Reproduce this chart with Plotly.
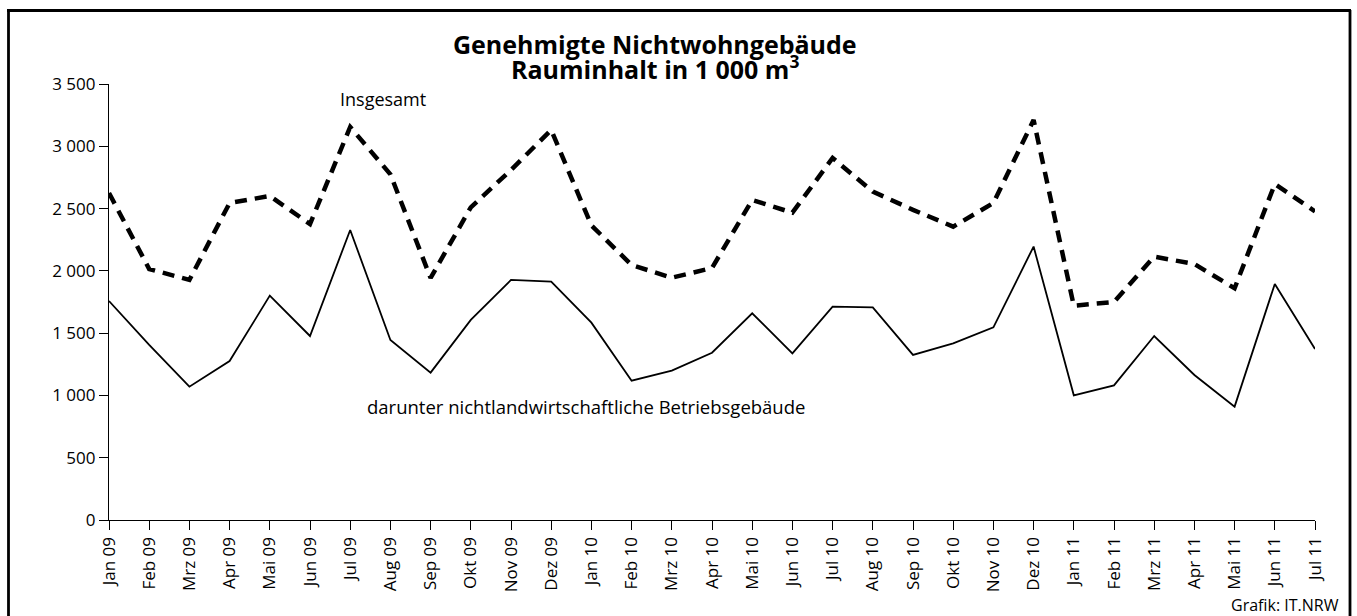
import plotly.graph_objects as go

months = ["Jan 09", "Feb 09", "Mrz 09", "Apr 09", "Mai 09", "Jun 09", "Jul 09", "Aug 09", "Sep 09", "Okt 09",
          "Nov 09", "Dez 09", "Jan 10", "Feb 10", "Mrz 10", "Apr 10", "Mai 10", "Jun 10", "Jul 10", "Aug 10",
          "Sep 10", "Okt 10", "Nov 10", "Dez 10", "Jan 11", "Feb 11", "Mrz 11", "Apr 11", "Mai 11", "Jun 11",
          "Jul 11"]

insgesamt = [2625, 2015, 1927, 2545, 2601, 2376, 3155, 2775, 1943, 2510,
             2810, 3131, 2365, 2047, 1945, 2023, 2569, 2467, 2906, 2636,
             2490, 2355, 2545, 3211, 1720, 1750, 2114, 2055, 1860, 2697,
             2477]

betriebsgebaeude = [1758, 1405, 1070, 1276, 1801, 1477, 2328, 1445, 1183, 1606,
                    1927, 1913, 1584, 1118, 1199, 1343, 1659, 1338, 1713, 1707,
                    1325, 1418, 1547, 2195, 1001, 1081, 1477, 1164, 910, 1895,
                    1373]

y_tickvals = [0, 500, 1000, 1500, 2000, 2500, 3000, 3500]
y_ticktext = ["0", "500", "1 000", "1 500", "2 000", "2 500", "3 000", "3 500"]

title_line1 = "Genehmigte Nichtwohngebäude"
title_line2 = "Rauminhalt in 1 000 m<sup>3</sup>"
label_total = "Insgesamt"
label_sub = "darunter nichtlandwirtschaftliche Betriebsgebäude"
source = "Grafik: IT.NRW"

FONT = "Open Sans"
W, H = 1357, 616
l, r, t, b = 109, 42, 84, 96
pw, ph = W - l - r, H - t - b


def px_x(px):
    return (px - l) / pw


def px_y(py):
    return (H - b - py) / ph


fig = go.Figure()
fig.add_trace(go.Scatter(x=months, y=insgesamt, mode="lines", name=label_total,
                         line=dict(color="black", width=4.5, dash="12px,8px"), showlegend=False))
fig.add_trace(go.Scatter(x=months, y=betriebsgebaeude, mode="lines", name=label_sub,
                         line=dict(color="black", width=1.8), showlegend=False))

fig.update_layout(
    width=W, height=H,
    margin=dict(l=l, r=r, t=t, b=b),
    paper_bgcolor="white", plot_bgcolor="white",
    font=dict(family=FONT, color="black"),
    xaxis=dict(type="category", range=[0, len(months) - 1], showgrid=False, zeroline=False,
               showline=True, linecolor="black", linewidth=1.3,
               ticks="outside", ticklen=9, tickwidth=1.3, tickcolor="black",
               tickangle=-90, tickfont=dict(size=17, family=FONT)),
    yaxis=dict(range=[0, 3500], showgrid=False, zeroline=False,
               showline=True, linecolor="black", linewidth=1.3,
               ticks="outside", ticklen=9, tickwidth=1.3, tickcolor="black",
               tickvals=y_tickvals, ticktext=y_ticktext,
               tickfont=dict(size=17, family=FONT)),
)

fig.add_annotation(text="<b>" + title_line1 + "</b>", x=px_x(655), y=px_y(44), xref="paper", yref="paper",
                   showarrow=False, xanchor="center", yanchor="middle",
                   font=dict(size=25, family=FONT))
fig.add_annotation(text="<b>" + title_line2 + "</b>", x=px_x(655), y=px_y(67), xref="paper", yref="paper",
                   showarrow=False, xanchor="center", yanchor="middle",
                   font=dict(size=25, family=FONT))

fig.add_annotation(text=label_total, x=6.82, y=3380, xref="x", yref="y", showarrow=False,
                   font=dict(size=18, family=FONT), xanchor="center", yanchor="middle")
fig.add_annotation(text=label_sub, x=6.37, y=915,
                   xref="x", yref="y", showarrow=False, xanchor="left", yanchor="middle",
                   font=dict(size=18.5, family=FONT))
fig.add_annotation(text=source, x=px_x(1341), y=px_y(605), xref="paper", yref="paper",
                   xanchor="right", yanchor="middle", showarrow=False,
                   font=dict(size=16, family=FONT))

for (x0, y0, x1, y1) in [(7, 10.5, 1351, 10.5), (8.5, 10, 8.5, 630), (1350, 10, 1350, 630)]:
    fig.add_shape(type="line", xref="paper", yref="paper",
                  x0=px_x(x0), y0=px_y(y0), x1=px_x(x1), y1=px_y(y1),
                  line=dict(color="black", width=2.8))

fig.write_html("out.html", config={"displayModeBar": False},
               post_script="document.body.style.margin='0';document.body.style.overflow='hidden';")
